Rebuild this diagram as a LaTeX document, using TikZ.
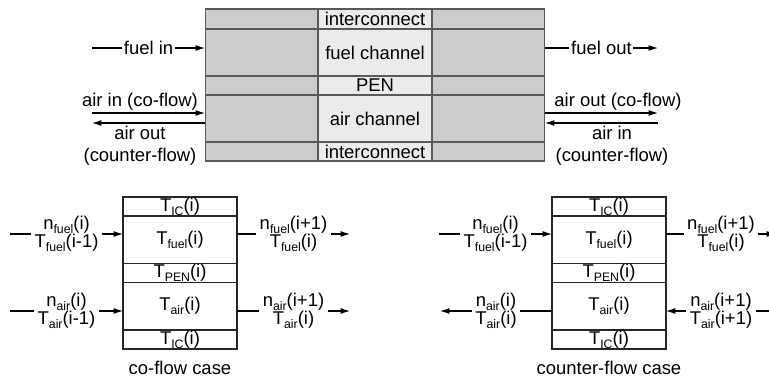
\documentclass[tikz,border=0pt]{standalone}
\usepackage{fontspec}
\setmainfont{Liberation Sans}
\usetikzlibrary{positioning, arrows.meta}
\newcommand{\lowidx}[1]{\raisebox{-0.4ex}{\scriptsize #1}}

\begin{document}
\begin{tikzpicture}[x=0.02cm, y=-0.02cm, line width=0.6pt,
	font=\fontsize{10.5}{12.6}\selectfont,
	every node/.style={inner sep=0pt, outer sep=0pt},
	toplayer/.style={draw=black!65, fill=black!8, minimum width=2.28cm},
	slab/.style={draw=black!85, minimum width=2.28cm},
	thin/.style={minimum height=0.38cm},
	thick/.style={minimum height=0.95cm},
	flow/.style={-{Latex[length=1.9mm, width=1.2mm]}},
	flowlabel/.style={fill=white, align=center, inner xsep=2pt, font={\fontsize{10.5}{10.2}\selectfont\lineskiplimit=-20pt}}]
			\useasboundingbox (0,0) rectangle (769,376);
			% Channel stack
			\node[draw=black!65, fill=black!20, minimum width=6.8cm, minimum height=3.04cm] (stack) at (375,85) {};
			\node[toplayer, minimum height=0.4cm, anchor=north] (ictop) at (375,9) {interconnect};
			\node[toplayer, minimum height=0.94cm, below=0pt of ictop] (fuelch) {fuel channel};
			\node[toplayer, minimum height=0.38cm, below=0pt of fuelch] (pen) {PEN};
			\node[toplayer, minimum height=0.94cm, below=0pt of pen] (airch) {air channel};
			\node[toplayer, minimum height=0.38cm, below=0pt of airch] (icbot) {interconnect};
			\foreach \n in {fuelch, pen, airch, icbot}
				\draw[black!65] (stack.west |- \n.north) -- (stack.east |- \n.north);
			% Stack inlets
			\coordinate (fuelin) at (92,48);
			\coordinate (airin) at (92,113);
			\coordinate (airout) at (92,123);
			\draw[flow] (fuelin) -- node[fill=white, inner xsep=1pt] {fuel in} (fuelin -| stack.west);
			\draw[flow] (airin) -- (airin -| stack.west);
			\draw[flow] (airout -| stack.west) -- (airout);
			\node (airinlbl) at (140,102) {air in (co-flow)};
			\node[align=center] (airoutlbl) at (140,146) {air out\\(counter-flow)};
			% Stack outlets
			\coordinate (fuelout) at (658,48);
			\coordinate (airoutr) at (658,113);
			\coordinate (airinr) at (658,123);
			\draw[flow] (fuelout -| stack.east) -- node[fill=white, inner xsep=1pt] {fuel out} (fuelout);
			\draw[flow] (airoutr -| stack.east) -- (airoutr);
			\draw[flow] (airinr) -- (airinr -| stack.east);
			\node (airoutrlbl) at (618,102) {air out (co-flow)};
			\node[align=center] (airinrlbl) at (612,146) {air in\\(counter-flow)};
			% Co-flow cell
			\node[slab, thin, anchor=north] (coic1) at (180,197) {T\lowidx{IC}(i)};
			\node[slab, thick, below=0pt of coic1] (cofuel) {T\lowidx{fuel}(i)};
			\node[slab, thin, below=0pt of cofuel] (copen) {T\lowidx{PEN}(i)};
			\node[slab, thick, below=0pt of copen] (coair) {T\lowidx{air}(i)};
			\node[slab, thin, below=0pt of coair] (coic2) {T\lowidx{IC}(i)};
			\node[below=0.24cm of coic2] (colbl) {co-flow case};
			\coordinate (cofin) at (10,234);
			\coordinate (cofout) at (350,234);
			\coordinate (coain) at (10,311);
			\coordinate (coaout) at (350,311);
			\draw[flow] (cofin) -- node[flowlabel] {n\lowidx{fuel}(i)\\T\lowidx{fuel}(i-1)} (cofin -| cofuel.west);
			\draw[flow] (cofin -| cofuel.east) -- node[flowlabel] {n\lowidx{fuel}(i+1)\\T\lowidx{fuel}(i)} (cofout);
			\draw[flow] (coain) -- node[flowlabel] {n\lowidx{air}(i)\\T\lowidx{air}(i-1)} (coain -| coair.west);
			\draw[flow] (coain -| coair.east) -- node[flowlabel] {n\lowidx{air}(i+1)\\T\lowidx{air}(i)} (coaout);
			% Counter-flow cell
			\node[slab, thin, anchor=north] (cfic1) at (609,197) {T\lowidx{IC}(i)};
			\node[slab, thick, below=0pt of cfic1] (cffuel) {T\lowidx{fuel}(i)};
			\node[slab, thin, below=0pt of cffuel] (cfpen) {T\lowidx{PEN}(i)};
			\node[slab, thick, below=0pt of cfpen] (cfair) {T\lowidx{air}(i)};
			\node[slab, thin, below=0pt of cfair] (cfic2) {T\lowidx{IC}(i)};
			\node[below=0.24cm of cfic2] (cflbl) {counter-flow case};
			\coordinate (cffin) at (439,234);
			\coordinate (cffout) at (776,234);
			\coordinate (cfaout) at (440,311);
			\coordinate (cfain) at (776,311);
			\draw[flow] (cffin) -- node[flowlabel] {n\lowidx{fuel}(i)\\T\lowidx{fuel}(i-1)} (cffin -| cffuel.west);
			\draw[flow] (cffin -| cffuel.east) -- node[flowlabel] {n\lowidx{fuel}(i+1)\\T\lowidx{fuel}(i)} (cffout);
			\draw[flow] (cfaout -| cfair.west) -- node[flowlabel] {n\lowidx{air}(i)\\T\lowidx{air}(i)} (cfaout);
			\draw[flow] (cfain) -- node[flowlabel] {n\lowidx{air}(i+1)\\T\lowidx{air}(i+1)} (cfain -| cfair.east);
		\end{tikzpicture}
\end{document}
